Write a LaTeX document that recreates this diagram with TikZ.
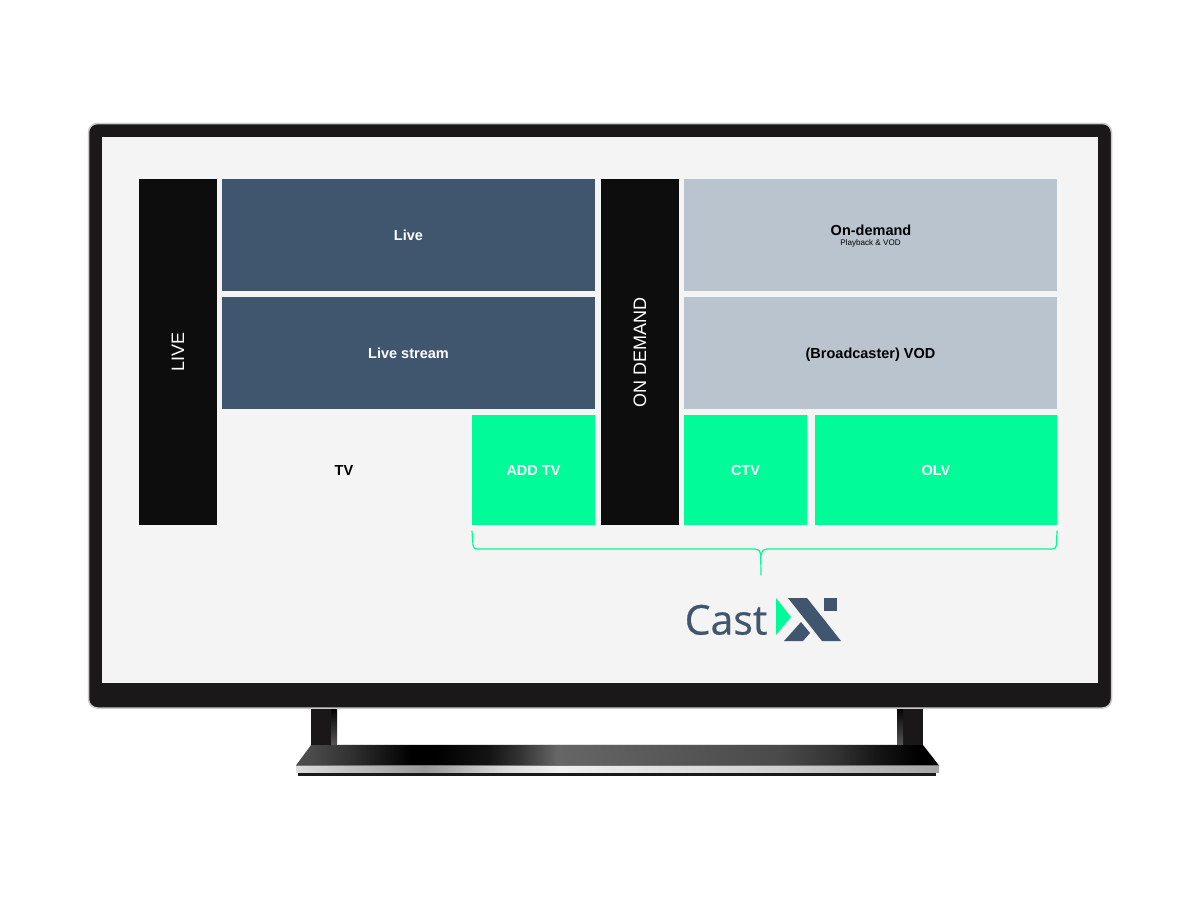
\documentclass[tikz,border=0pt]{standalone}
\usepackage{fontspec}
\setmainfont{Liberation Sans}
\newfontfamily\logofont[FakeBold=0.5]{Open Sans}
\definecolor{frameblack}{HTML}{1A1818}
\definecolor{frameedge}{HTML}{C9C9C9}
\definecolor{screengray}{HTML}{F4F4F4}
\definecolor{panelblack}{HTML}{0D0D0D}
\definecolor{navy}{HTML}{3F566E}
\definecolor{paleblue}{HTML}{BAC4CE}
\definecolor{mint}{HTML}{00FB98}
\definecolor{legdark}{HTML}{191717}
\definecolor{bs1}{HTML}{4C4C4C}
\definecolor{bs2}{HTML}{333333}
\definecolor{bs3}{HTML}{141414}
\definecolor{bs4}{HTML}{666666}
\definecolor{bs5}{HTML}{4A4A4A}
\definecolor{bt1}{HTML}{DDDDDD}
\definecolor{bt2}{HTML}{999999}
\definecolor{bt3}{HTML}{D8D8D8}
\definecolor{bt4}{HTML}{F0F0F0}
\definecolor{bt5}{HTML}{D0D0D0}
\definecolor{bt6}{HTML}{A5A5A5}
\pgfdeclarehorizontalshading{baseshade}{100bp}{
  color(0bp)=(bs1); color(26bp)=(bs1); color(29bp)=(bs2); color(34bp)=(black); color(36bp)=(black);
  color(40bp)=(bs3); color(42.4bp)=(bs2); color(45.3bp)=(bs4); color(62.6bp)=(bs5);
  color(67bp)=(bs2); color(70.4bp)=(bs3); color(73.5bp)=(black); color(100bp)=(black)}
\pgfdeclarehorizontalshading{barshade}{100bp}{
  color(0bp)=(bt1); color(25bp)=(bt1); color(35bp)=(bt2); color(36.5bp)=(bt6);
  color(41bp)=(bt3); color(45.3bp)=(bt4); color(62.6bp)=(bt5); color(75bp)=(bt6); color(100bp)=(bt6)}
\pgfdeclareverticalshading{legshade}{100bp}{
  color(0bp)=(black!65!white); color(25bp)=(black!65!white); color(75bp)=(black); color(100bp)=(black)}
\tikzset{
  panel/.style={anchor=north west,inner sep=0pt,outer sep=0pt,text=white,text height=10.6pt,text depth=0pt},
  blackpanel/.style={anchor=north west,inner sep=0pt,outer sep=0pt,text=white,fill=panelblack,font=\fontsize{18}{20}\selectfont},
  navypanel/.style={panel,fill=navy,font=\fontsize{14.5}{16}\selectfont\bfseries},
  palepanel/.style={panel,fill=paleblue,text=black,font=\fontsize{14.5}{16}\selectfont\bfseries},
  mintpanel/.style={panel,fill=mint,font=\fontsize{14.5}{16}\selectfont\bfseries},
  bracket/.style={draw=mint,line width=1.2pt,line cap=round,line join=round}
}
\begin{document}
\begin{tikzpicture}[x=1pt,y=-1pt]
\useasboundingbox (0,0) rectangle (1200,900);
\fill[white] (0,0) rectangle (1200,900);
% stand
\fill[legdark] (311,708) rectangle (331,746);
\shade[shading=legshade] (331,708) rectangle (337,746);
\fill[legdark] (903,708) rectangle (923,746);
\shade[shading=legshade] (897,708) rectangle (903,746);
\fill[black!12!white] (337,744) rectangle (897,746);
\fill[frameblack] (298,771) rectangle (936,776);
\shade[shading=baseshade] (311,745) -- (923,745) -- (939,765.5) -- (296,765.5) -- cycle;
\shade[shading=barshade] (296,765.5) rectangle (939,772);
\fill[black!55!white] (296,765) rectangle (939,766);
% television
\draw[fill=frameblack,draw=frameedge,line width=1.5pt,rounded corners=9pt] (88.5,123.5) rectangle (1111.5,708);
\fill[screengray] (102,137) rectangle (1098,683);
% panels
\node[blackpanel,minimum width=78pt,minimum height=346pt] (liveside) at (139,179) {\rotatebox{90}{LIVE}};
\node[navypanel,minimum width=373pt,minimum height=112pt] (live) at (222,179) {Live};
\node[navypanel,minimum width=373pt,minimum height=112pt] (livestream) at (222,297) {Live stream};
\node[panel,text=black,font=\fontsize{14.5}{16}\selectfont\bfseries,minimum width=244pt,minimum height=110pt] (tv) at (222,415) {TV};
\node[mintpanel,minimum width=123pt,minimum height=110pt] (addtv) at (472,415) {ADD TV};
\node[blackpanel,minimum width=78pt,minimum height=346pt] (ondemandside) at (601,179) {\rotatebox{90}{ON DEMAND}};
\node[palepanel,minimum width=373pt,minimum height=112pt] (ondemand) at (684,179) {};
\node[anchor=center,inner sep=0pt,text=black,font=\fontsize{14.5}{16}\selectfont\bfseries] (ondemandtext) at (871,230) {On-demand};
\node[anchor=center,inner sep=0pt,text=black,font=\fontsize{8.1}{9}\selectfont] (playback) at (870.5,243.5) {Playback \& VOD};
\node[palepanel,minimum width=373pt,minimum height=112pt] (vod) at (684,297) {(Broadcaster) VOD};
\node[mintpanel,minimum width=123pt,minimum height=110pt] (ctv) at (684,415) {CTV};
\node[mintpanel,minimum width=242pt,minimum height=110pt] (olv) at (815,415) {OLV};
% bracket
\coordinate (brL) at (472,531);
\coordinate (brR) at (1057,531);
\coordinate (brTip) at (761,575);
\draw[bracket] (brL) -- (473,545) .. controls (473.3,548) and (474.5,549) .. (477,549)
  -- (755,549) .. controls (758,549) and (760,550) .. (760.7,555) -- (brTip)
  (761.3,555) .. controls (762,550) and (764,549) .. (767,549)
  -- (1052,549) .. controls (1055,549) and (1056.2,548) .. (1056.5,545) -- (brR);
% logo
\node[anchor=base west,inner sep=0pt,text=navy,font=\logofont\fontsize{41}{44}\selectfont] (cast) at (684.5,634.5) {Cast};
\fill[mint] (776,598) -- (791,617) -- (776,635) -- cycle;
\fill[navy] (788,598) -- (807,598) -- (841,641) -- (822,641) -- cycle;
\fill[navy] (824,598) rectangle (836.5,610.7);
\fill[navy] (784,641) -- (801,622) -- (810,633) -- (803,641) -- cycle;
\end{tikzpicture}
\end{document}
